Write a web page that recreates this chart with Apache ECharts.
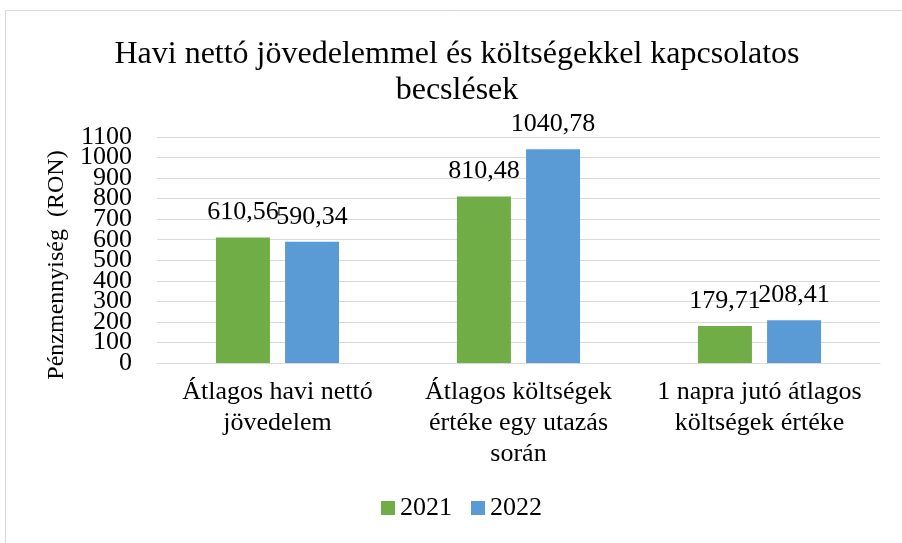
<!DOCTYPE html>
<html>
<head>
<meta charset="utf-8">
<script src="https://cdn.jsdelivr.net/npm/echarts@6/dist/echarts.min.js"></script>
<style>
  html, body { margin: 0; padding: 0; background: #fff; }
  #chart { width: 902px; height: 543px; }
</style>
</head>
<body>
<div id="chart"></div>
<script>
const categories = ['Átlagos havi nettó\njövedelem', 'Átlagos költségek\nértéke egy utazás\nsorán', '1 napra jutó átlagos\nköltségek értéke'];
const values2021 = [610.56, 810.48, 179.71];
const values2022 = [590.34, 1040.78, 208.41];
const seriesNames = ['2021', '2022'];
const yTicks = ['0', '100', '200', '300', '400', '500', '600', '700', '800', '900', '1000', '1100'];

const font = '"Liberation Serif", "DejaVu Serif", serif';
const chart = echarts.init(document.getElementById('chart'));

// címke formázás vesszővel
const fmt = p => p.value.toFixed(2).replace('.', ',');

const barLabel = { show: true, position: 'top', distance: 12, formatter: fmt, fontFamily: font, fontSize: 26, color: '#000' };

const option = {
  animation: false,
  title: {
    text: 'Havi nettó jövedelemmel és költségekkel kapcsolatos\nbecslések',
    left: 452,
    top: 32,
    textAlign: 'center',
    textStyle: { fontFamily: font, fontSize: 32, fontWeight: 'normal', color: '#000', lineHeight: 36 }
  },
  graphic: [{
    type: 'rect',
    shape: { x: 5.5, y: 10.5, width: 920, height: 560 },
    style: { fill: 'none', stroke: '#d9d9d9', lineWidth: 1 },
    silent: true
  }],
  legend: {
    data: seriesNames,
    bottom: 17,
    left: 376,
    itemWidth: 14,
    itemHeight: 14,
    itemGap: 19,
    icon: 'rect',
    textStyle: { fontFamily: font, fontSize: 26, color: '#000' }
  },
  grid: { left: 157, right: 22, top: 137, bottom: 180 },
  xAxis: {
    type: 'category',
    data: categories,
    axisLine: { lineStyle: { color: '#d9d9d9' } },
    axisTick: { show: false },
    axisLabel: { fontFamily: font, fontSize: 26, color: '#000', lineHeight: 31, margin: 14, interval: 0 }
  },
  yAxis: [
    {
      type: 'value',
      min: 0,
      max: 1100,
      interval: 100,
      name: 'Pénzmennyiség  (RON)',
      nameLocation: 'middle',
      nameGap: 88,
      nameTextStyle: { fontFamily: font, fontSize: 24, color: '#000', padding: [0, 30, 0, 0] },
      axisLine: { show: false },
      axisTick: { show: false },
      axisLabel: { show: false },
      splitLine: { lineStyle: { color: '#d9d9d9', width: 1 } }
    },
    {
      // csak a tengelyfeliratokhoz, hogy mind látszódjon
      type: 'category',
      data: yTicks,
      boundaryGap: false,
      position: 'left',
      axisLine: { show: false },
      axisTick: { show: false },
      splitLine: { show: false },
      axisLabel: { fontFamily: font, fontSize: 26, color: '#000', margin: 25, interval: 0 }
    }
  ],
  series: [
    {
      name: seriesNames[0],
      type: 'bar',
      data: values2021,
      barWidth: 54,
      barGap: '28%',
      itemStyle: { color: '#70AD47' },
      label: barLabel
    },
    {
      name: seriesNames[1],
      type: 'bar',
      data: values2022,
      barWidth: 54,
      barGap: '28%',
      itemStyle: { color: '#5B9BD5' },
      label: barLabel
    }
  ]
};

chart.setOption(option);
</script>
</body>
</html>
